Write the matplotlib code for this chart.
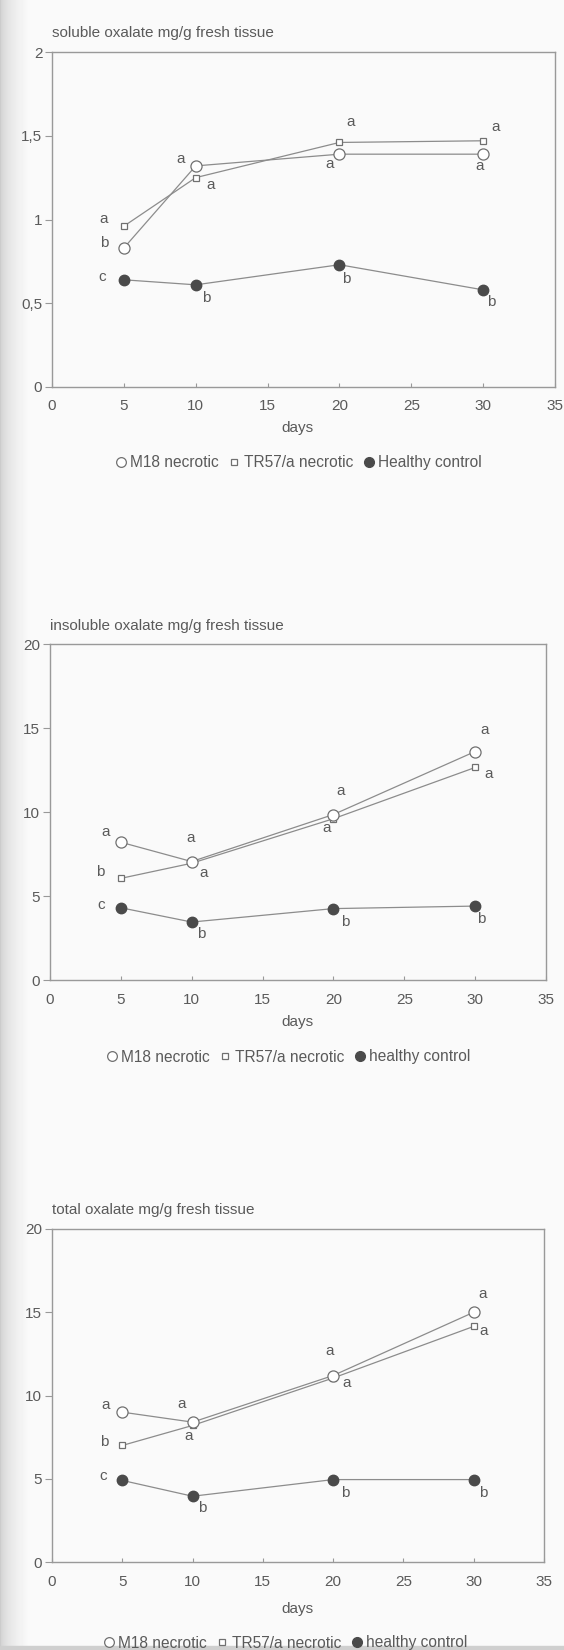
import numpy as np
import matplotlib
matplotlib.use("Agg")
import matplotlib.pyplot as plt
from matplotlib.lines import Line2D

plt.rcParams['font.family'] = ['Liberation Sans', 'DejaVu Sans']

# ---------------- data ----------------
days = [5, 10, 20, 30]
x_ticks = [0, 5, 10, 15, 20, 25, 30, 35]

soluble_m18 = [0.83, 1.32, 1.39, 1.39]
soluble_tr57 = [0.96, 1.25, 1.46, 1.47]
soluble_healthy = [0.64, 0.61, 0.73, 0.58]
soluble_yticks = [0, 0.5, 1, 1.5, 2]
soluble_yticklabels = ['0', '0,5', '1', '1,5', '2']

insoluble_m18 = [8.2, 7.05, 9.85, 13.6]
insoluble_tr57 = [6.05, 6.95, 9.6, 12.65]
insoluble_healthy = [4.3, 3.45, 4.25, 4.4]

total_m18 = [9.0, 8.4, 11.2, 15.0]
total_tr57 = [7.0, 8.2, 11.05, 14.15]
total_healthy = [4.9, 3.95, 4.95, 4.95]
big_yticks = [0, 5, 10, 15, 20]

soluble_letters_m18 = ['b', 'a', 'a', 'a']
soluble_letters_tr57 = ['a', 'a', 'a', 'a']
soluble_letters_healthy = ['c', 'b', 'b', 'b']
insoluble_letters_m18 = ['a', 'a', 'a', 'a']
insoluble_letters_tr57 = ['b', 'a', 'a', 'a']
insoluble_letters_healthy = ['c', 'b', 'b', 'b']
total_letters_m18 = ['a', 'a', 'a', 'a']
total_letters_tr57 = ['b', 'a', 'a', 'a']
total_letters_healthy = ['c', 'b', 'b', 'b']

titles = ['soluble oxalate mg/g fresh tissue',
          'insoluble oxalate mg/g fresh tissue',
          'total oxalate mg/g fresh tissue']
legend_labels = [['M18 necrotic', 'TR57/a necrotic', 'Healthy control'],
                 ['M18 necrotic', 'TR57/a necrotic', 'healthy control'],
                 ['M18 necrotic', 'TR57/a necrotic', 'healthy control']]
xlabel = 'days'

# ---------------- layout (pixels) ----------------
W, H = 564, 1650
fig = plt.figure(figsize=(W / 100, H / 100), dpi=100)
fig.patch.set_facecolor('#fafaf8')

# page background shading (left scan edge)
grad = np.linspace(0, 1, 30)
bg = fig.add_axes([0, 0, 1, 1], zorder=-10)
bg.set_axis_off()
img = np.ones((1, 564))
img[0, :30] = 0.80 + 0.18 * np.sqrt(grad)
img[0, 30:] = 0.98
bg.imshow(img, cmap='gray', vmin=0, vmax=1, aspect='auto', extent=[0, 1, 0, 1])
bg.axhspan(0, 4 / H, color='#cfcfcf')
bg.set_xlim(0, 1)
bg.set_ylim(0, 1)

TXT = '#5a5a5a'
LINE = '#8c8c8c'
SPINE = '#999999'
DARK = '#4a4a4a'

# (left, top, right, bottom) in pixels
boxes = [(52, 52, 555, 387), (50, 644, 546, 980), (52, 1229, 544, 1562)]
title_y = [33, 626, 1210]
days_y = [428, 1022, 1609]
legend_y = [463, 1057, 1643]
legend_x = [298, 288, 285]

# letter offsets in pixels (dx, dy) for M18, TR57, healthy per day
offs = [
    {'m18': [(-20, 5), (-15, 7), (-10, -10), (-4, -12)],
     'tr57': [(-20, 7), (15, -7), (11, 20), (12, 14)],
     'h': [(-22, 3), (11, -13), (7, -14), (8, -12)]},
    {'m18': [(-15, 10), (-1, 24), (7, 24), (9, 22)],
     'tr57': [(-21, 6), (12, -10), (-7, -9), (13, -7)],
     'h': [(-20, 3), (10, -12), (12, -13), (6, -13)]},
    {'m18': [(-17, 7), (-11, 18), (-4, 25), (9, 18)],
     'tr57': [(-18, 3), (-4, -11), (13, -5), (10, -5)],
     'h': [(-19, 4), (10, -12), (12, -13), (10, -13)]},
]

datasets = [
    (soluble_m18, soluble_tr57, soluble_healthy, 2,
     soluble_yticks, soluble_yticklabels,
     soluble_letters_m18, soluble_letters_tr57, soluble_letters_healthy),
    (insoluble_m18, insoluble_tr57, insoluble_healthy, 20,
     big_yticks, [str(v) for v in big_yticks],
     insoluble_letters_m18, insoluble_letters_tr57, insoluble_letters_healthy),
    (total_m18, total_tr57, total_healthy, 20,
     big_yticks, [str(v) for v in big_yticks],
     total_letters_m18, total_letters_tr57, total_letters_healthy),
]

for i, (m18, tr57, hc, ymax, yt, ytl, lm, lt, lh) in enumerate(datasets):
    l, t, r, b = boxes[i]
    ax = fig.add_axes([l / W, 1 - b / H, (r - l) / W, (b - t) / H])
    ax.set_facecolor('none')
    ax.set_xlim(0, 35)
    ax.set_ylim(0, ymax)
    for s in ax.spines.values():
        s.set_color(SPINE)
        s.set_linewidth(1.0)
    ax.set_xticks(x_ticks)
    ax.set_xticklabels([str(v) for v in x_ticks])
    ax.set_yticks(yt)
    ax.set_yticklabels(ytl)
    ax.tick_params(axis='x', direction='in', length=3, color=SPINE,
                   labelsize=11, labelcolor=TXT, pad=9)
    ax.tick_params(axis='y', direction='out', length=5, color=SPINE,
                   labelsize=11, labelcolor=TXT, pad=2)

    ax.plot(days, hc, color=LINE, lw=0.9, marker='o', ms=7.5,
            mfc=DARK, mec=DARK, zorder=3)
    ax.plot(days, tr57, color=LINE, lw=0.9, marker='s', ms=4.5,
            mfc='white', mec='#707070', mew=0.9, zorder=4)
    ax.plot(days, m18, color=LINE, lw=0.9, marker='o', ms=8,
            mfc='white', mec='#707070', mew=0.9, zorder=5)

    for key, vals, letters in (('m18', m18, lm), ('tr57', tr57, lt), ('h', hc, lh)):
        for d, v, lab, (dx, dy) in zip(days, vals, letters, offs[i][key]):
            ax.annotate(lab, (d, v), xytext=(dx, dy), textcoords='offset pixels',
                        ha='center', va='center', fontsize=11, color=TXT,
                        zorder=6)

    fig.text(l / W, 1 - title_y[i] / H, titles[i], ha='left', va='center',
             fontsize=11, color=TXT)
    fig.text(297 / W, 1 - days_y[i] / H, xlabel, ha='center', va='center',
             fontsize=11, color=TXT)

    handles = [
        Line2D([], [], ls='none', marker='o', ms=7, mfc='white', mec='#707070', mew=0.9),
        Line2D([], [], ls='none', marker='s', ms=4.5, mfc='white', mec='#707070', mew=0.9),
        Line2D([], [], ls='none', marker='o', ms=7, mfc=DARK, mec=DARK),
    ]
    leg = fig.legend(handles, legend_labels[i], loc='center',
                     bbox_to_anchor=(legend_x[i] / W, 1 - legend_y[i] / H),
                     ncol=3, frameon=False, fontsize=11.2, handlelength=0.8,
                     handletextpad=0.2, columnspacing=0.6, borderpad=0)
    for txt in leg.get_texts():
        txt.set_color(TXT)

fig.savefig('out.png', dpi=100, facecolor=fig.get_facecolor())
